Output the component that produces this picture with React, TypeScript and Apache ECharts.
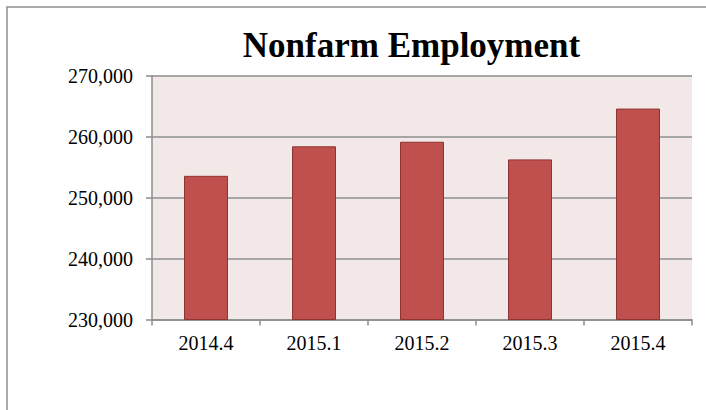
import React, { useEffect, useRef } from "react";
import * as echarts from "echarts";

const categories = ["2014.4", "2015.1", "2015.2", "2015.3", "2015.4"];
const employment = [253600, 258450, 259200, 256300, 264650];
const yTicks = [230000, 240000, 250000, 260000, 270000];
const titleText = "Nonfarm Employment";

const FONT = "'Liberation Serif', 'Times New Roman', serif";

export default function App() {
  const ref = useRef<HTMLDivElement>(null);
  useEffect(() => {
    if (!ref.current) return;
    const chart = echarts.init(ref.current, undefined, { renderer: "svg" });
    chart.setOption({
      animation: false,
      backgroundColor: "#ffffff",
      textStyle: { fontFamily: FONT },
      graphic: [
        {
          type: "rect",
          shape: { x: 7, y: 7, width: 900, height: 600 },
          style: { fill: "none", stroke: "#8e8e8e", lineWidth: 1.5 },
          silent: true,
        },
        {
          type: "text",
          x: 411.5,
          y: 45,
          style: {
            text: titleText,
            fontFamily: FONT,
            fontWeight: "bold",
            fontSize: 35,
            fill: "#000000",
            textAlign: "center",
            textVerticalAlign: "middle",
          },
        },
      ],
      grid: {
        left: 152,
        right: 14,
        top: 76,
        bottom: 90.5,
        show: true,
        backgroundColor: "#F2E8E7",
        borderWidth: 0,
      },
      xAxis: {
        type: "category",
        data: categories,
        boundaryGap: true,
        axisLine: { show: true, lineStyle: { color: "#8c8c8c", width: 1.5 } },
        axisTick: { show: true, length: 6, lineStyle: { color: "#8c8c8c", width: 1.5 } },
        axisLabel: { fontFamily: FONT, fontSize: 20, color: "#000000", margin: 13 },
      },
      yAxis: {
        type: "value",
        min: yTicks[0],
        max: yTicks[yTicks.length - 1],
        interval: 10000,
        axisLine: { show: true, lineStyle: { color: "#8c8c8c", width: 1.5 } },
        axisTick: { show: true, inside: false, length: 6, lineStyle: { color: "#8c8c8c", width: 1.5 } },
        splitLine: { show: true, lineStyle: { color: "#A6A6A6", width: 1.8 } },
        axisLabel: {
          fontFamily: FONT,
          fontSize: 20,
          color: "#000000",
          margin: 19,
          formatter: (v: number) => v.toLocaleString("en-US"),
        },
      },
      series: [
        {
          type: "bar",
          data: employment,
          barWidth: 44,
          itemStyle: { color: "#C0504D", borderColor: "#8E3432", borderWidth: 1 },
        },
      ],
    });
    return () => chart.dispose();
  }, []);
  return (
    <div
      ref={ref}
      style={{ position: "fixed", left: 0, top: 0, width: 706, height: 410 }}
    />
  );
}
